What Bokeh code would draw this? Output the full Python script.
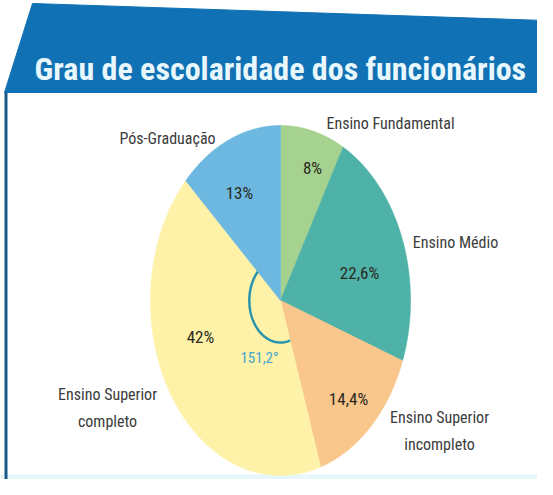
import numpy as np
from bokeh.plotting import figure
from bokeh.models import Range1d, Label
from bokeh.embed import file_html
from bokeh.resources import INLINE

# ---- data ----
categories = ["Ensino Fundamental", "Ensino Médio", "Ensino Superior incompleto",
              "Ensino Superior completo", "Pós-Graduação"]
label_lines = [["Ensino Fundamental"], ["Ensino Médio"], ["Ensino Superior", "incompleto"],
               ["Ensino Superior", "completo"], ["Pós-Graduação"]]
values = [8, 22.6, 14.4, 42, 13]
pct_labels = ["8%", "22,6%", "14,4%", "42%", "13%"]
colors = ["#a6d28f", "#4fb2a8", "#f9c68c", "#fdf2a8", "#6cb8e0"]
title_text = "Grau de escolaridade dos funcionários"
angle_text = "151,2°"
highlight_index = 3

# ---- layout (plot pixel space, y downward) ----
W, H = 537, 479
cx, cy, rx, ry = 280, 300, 130, 175
pct_pos = [(312, 167), (359, 272), (348, 398), (200, 336), (239, 192)]
cat_pos = [(390, 123), (455, 242), (439, 417), (107, 394), (167, 138)]
line_gap = 27
angle_pos = (259, 357)

p = figure(width=W, height=H, output_backend="svg", toolbar_location=None,
           x_range=Range1d(0, W), y_range=Range1d(H, 0), min_border=0,
           background_fill_color="white", border_fill_color="white")
p.axis.visible = False
p.grid.visible = False
p.outline_line_color = None

# banner + frame decorations
p.patch([32, 545, 545, 4], [3, 20, 92, 92], fill_color="#1071b4", line_color="#1071b4")
p.quad(left=0, right=W, top=474, bottom=H, fill_color="#e6f7fc", line_color=None)
p.line([5.5, 5.5], [92, H], line_color="#1b5a88", line_width=3)

# pie wedges (clockwise from top)
total = float(sum(values))
bounds = np.concatenate([[0], np.cumsum(values)]) / total * 2 * np.pi
xs, ys = [], []
for i in range(len(values)):
    t = np.linspace(bounds[i], bounds[i + 1], 120)
    xs.append(np.concatenate([[cx], cx + rx * np.sin(t)]).tolist())
    ys.append(np.concatenate([[cy], cy - ry * np.cos(t)]).tolist())
p.patches(xs, ys, fill_color=colors, line_color=colors, line_width=0.6)

# angle arc on the highlighted wedge
t = np.linspace(bounds[highlight_index], bounds[highlight_index + 1], 100)
ar = 0.24
p.line((cx + ar * rx * np.sin(t)).tolist(), (cy - ar * ry * np.cos(t)).tolist(),
       line_color="#2a93ad", line_width=2.5)

FONT = "Roboto Condensed"
for txt, (x, y) in zip(pct_labels, pct_pos):
    p.add_layout(Label(x=x, y=y, text=txt, text_font=FONT, text_font_size="17px",
                       text_color="#2b2a1e", text_align="center", text_baseline="middle"))
for lines, (x, y) in zip(label_lines, cat_pos):
    for k, ln in enumerate(lines):
        p.add_layout(Label(x=x, y=y + k * line_gap, text=ln, text_font=FONT,
                           text_font_size="16px", text_color="#3c3c3c",
                           text_align="center", text_baseline="middle"))
p.add_layout(Label(x=angle_pos[0], y=angle_pos[1], text=angle_text, text_font=FONT,
                   text_font_size="15px", text_color="#45a6cc",
                   text_align="center", text_baseline="middle"))
p.add_layout(Label(x=34, y=68, text=title_text, text_font=FONT, text_font_size="32px",
                   text_font_style="bold", text_color="#e8f7fc",
                   text_align="left", text_baseline="alphabetic"))

open("out.html", "w").write(file_html(p, INLINE))
